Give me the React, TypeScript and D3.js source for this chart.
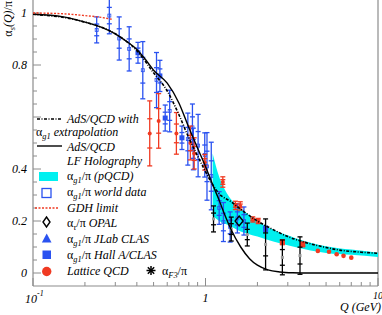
import React, { useEffect, useRef } from 'react';
import * as d3 from 'd3';

// [Q (GeV), alpha/pi, error]
const worldData: number[][] = [
  [0.234, 0.935, 0.05],
  [0.277, 0.99, 0.07],
  [0.316, 0.902, 0.083],
  [0.361, 0.862, 0.085],
  [0.433, 0.78, 0.11],
  [0.52, 0.742, 0.106],
  [0.62, 0.623, 0.08],
  [0.79, 0.515, 0.1],
  [0.84, 0.56, 0.09],
  [0.85, 0.477, 0.08],
  [0.906, 0.49, 0.12],
  [0.99, 0.454, 0.085],
  [1.02, 0.41, 0.13],
  [1.08, 0.373, 0.13],
  [1.2, 0.25, 0.063],
  [1.27, 0.196, 0.075],
  [1.39, 0.177, 0.058],
  [1.53, 0.21, 0.056],
  [1.67, 0.2, 0.054],
];

const hallAData: number[][] = [
  [0.406, 0.847, 0.04],
  [0.544, 0.758, 0.06],
  [0.584, 0.596, 0.05],
  [0.73, 0.52, 0.045],
  [2.23, 0.17, 0.01],
];

const latticeBars: number[][] = [
  [0.475, 0.537, 0.125],
  [0.535, 0.585, 0.105],
  [0.678, 0.537, 0.08],
  [0.817, 0.5, 0.065],
  [0.86, 0.46, 0.06],
  [0.99, 0.426, 0.03],
  [1.26, 0.35, 0.02],
  [1.49, 0.26, 0.016],
  [1.59, 0.258, 0.016],
  [1.88, 0.206, 0.01],
  [2.02, 0.2, 0.01],
];

const latticeSquares: number[][] = [
  [2.79, 0.118, 0.008],
  [3.66, 0.11, 0.008],
];

const latticeDots: number[][] = [
  [4.48, 0.085],
  [5.2, 0.082],
  [5.76, 0.072],
  [6.31, 0.066],
  [7.0, 0.059],
];

const f3Data: number[][] = [
  [1.113, 0.208, 0.05],
  [1.41, 0.169, 0.046],
  [1.747, 0.148, 0.044],
  [2.23, 0.11, 0.098],
  [2.79, 0.06, 0.067],
  [3.53, 0.067, 0.072],
];

const opalData: number[][] = [[1.566, 0.2]];

// AdS/QCD LF holography curve
const holoCurve: number[][] = [
  [0.1, 0.995], [0.15, 0.985], [0.2, 0.965], [0.25, 0.945], [0.3, 0.92],
  [0.35, 0.89], [0.4, 0.86], [0.45, 0.82], [0.5, 0.78], [0.6, 0.73],
  [0.7, 0.655], [0.8, 0.56], [0.9, 0.48], [1.0, 0.41], [1.1, 0.34],
  [1.2, 0.28], [1.3, 0.22], [1.4, 0.17], [1.6, 0.1], [1.8, 0.055],
  [2.0, 0.03], [2.3, 0.012], [2.7, 0.004], [3.2, 0.001], [4, 0], [10, 0],
];

// AdS/QCD with alpha_g1 extrapolation
const extrapCurve: number[][] = [
  [0.1, 0.995], [0.2, 0.965], [0.3, 0.92], [0.4, 0.855], [0.5, 0.77],
  [0.6, 0.7], [0.7, 0.61], [0.8, 0.52], [0.9, 0.45], [1.0, 0.39],
  [1.1, 0.34], [1.2, 0.305], [1.4, 0.275], [1.6, 0.245], [2.0, 0.2],
  [2.5, 0.165], [3.0, 0.14], [3.6, 0.122], [4.5, 0.105], [6, 0.088],
  [8, 0.08], [10, 0.076],
];

const gdhCurve: number[][] = [
  [0.1, 1.0], [0.15, 0.997], [0.2, 0.99], [0.25, 0.983], [0.29, 0.975],
];

// pQCD band: [Q, upper, lower]
const pqcdBand: number[][] = [
  [1.1, 0.46, 0.22], [1.2, 0.37, 0.2], [1.35, 0.3, 0.185], [1.6, 0.25, 0.16],
  [2.0, 0.2, 0.14], [2.5, 0.165, 0.12], [3.3, 0.135, 0.1], [5, 0.103, 0.077],
  [7, 0.09, 0.07], [10, 0.078, 0.062],
];

const yTickLabels: [number, string][] = [[0, '0'], [0.2, '0.2'], [0.4, '0.4'], [0.8, '0.8'], [1, '1']];

const BLUE = '#2a52f0';
const RED = '#f03a22';
const CYAN = '#00f0f0';
const AXIS = '#8c8c8c';
const FONT = '"Liberation Serif", "Times New Roman", serif';

type Part = [string, string];

function richText(g: any, x: number, y: number, parts: Part[], size = 12) {
  const t = g.append('text').attr('x', x).attr('y', y)
    .attr('font-family', FONT).attr('font-size', size).attr('fill', '#000');
  let shift = 0;
  parts.forEach(([s, kind]) => {
    const sp = t.append('tspan').text(s);
    if (kind === 'sub') {
      sp.attr('font-size', size * 0.7).attr('font-style', 'italic').attr('dy', 3 - shift);
      shift = 3;
    } else {
      sp.attr('dy', -shift);
      shift = 0;
      if (kind === 'i') sp.attr('font-style', 'italic');
    }
  });
  return t;
}

const App = () => {
  const ref = useRef<SVGSVGElement>(null);

  useEffect(() => {
    const svg = d3.select(ref.current);
    svg.selectAll('*').remove();

    const x = d3.scaleLog().domain([0.1, 10]).range([33, 378]);
    const y = d3.scaleLinear().domain([0, 1]).range([273, 13]);
    const yBottom = y(-0.05);

    // frame
    svg.append('line').attr('x1', 33).attr('x2', 33).attr('y1', 0).attr('y2', yBottom)
      .attr('stroke', AXIS).attr('stroke-width', 1.2);
    svg.append('line').attr('x1', 33).attr('x2', x(10)).attr('y1', yBottom).attr('y2', yBottom)
      .attr('stroke', AXIS).attr('stroke-width', 1.2);
    svg.append('line').attr('x1', x(10)).attr('x2', x(10)).attr('y1', 0).attr('y2', yBottom)
      .attr('stroke', AXIS).attr('stroke-width', 1.2);

    x.ticks().forEach((t) => {
      const major = Math.abs(Math.log10(t) - Math.round(Math.log10(t))) < 1e-6;
      svg.append('line').attr('x1', x(t)).attr('x2', x(t))
        .attr('y1', yBottom).attr('y2', yBottom - (major ? 8 : 4))
        .attr('stroke', AXIS).attr('stroke-width', 1);
    });
    y.ticks(20).forEach((t) => {
      const major = Math.abs(t * 5 - Math.round(t * 5)) < 1e-6;
      svg.append('line').attr('x1', 33).attr('x2', 33 + (major ? 8 : 4))
        .attr('y1', y(t)).attr('y2', y(t))
        .attr('stroke', AXIS).attr('stroke-width', 1);
    });

    yTickLabels.forEach(([v, s]) => {
      svg.append('text').attr('x', 27).attr('y', y(v) + 4).attr('text-anchor', 'end')
        .attr('font-family', FONT).attr('font-style', 'italic').attr('font-size', 12).text(s);
    });

    const xl = svg.append('text').attr('x', 25).attr('y', 303)
      .attr('font-family', FONT).attr('font-style', 'italic').attr('font-size', 12);
    xl.append('tspan').text('10');
    xl.append('tspan').text('-1').attr('font-size', 8).attr('dy', -7);
    svg.append('text').attr('x', x(1)).attr('y', 302).attr('text-anchor', 'middle')
      .attr('font-family', FONT).attr('font-style', 'italic').attr('font-size', 12).text('1');
    svg.append('text').attr('x', x(10)).attr('y', 299).attr('text-anchor', 'middle')
      .attr('font-family', FONT).attr('font-style', 'italic').attr('font-size', 10).text('10');
    svg.append('text').attr('x', 381).attr('y', 311).attr('text-anchor', 'end')
      .attr('font-family', FONT).attr('font-style', 'italic').attr('font-size', 12).text('Q (GeV)');

    const yt = richText(svg, 0, 0, [['α', 'g'], ['s', 'sub'], ['(Q)', 'i'], ['/π', 'g']], 12);
    yt.attr('x', null).attr('y', null).attr('text-anchor', 'end')
      .attr('transform', 'translate(12,1) rotate(-90)');

    // pQCD band
    const area = d3.area<number[]>()
      .x((d) => x(d[0])).y0((d) => y(d[2])).y1((d) => y(d[1]))
      .curve(d3.curveMonotoneX);
    svg.append('path').datum(pqcdBand).attr('d', area).attr('fill', CYAN);

    const line = d3.line<number[]>().x((d) => x(d[0])).y((d) => y(d[1])).curve(d3.curveMonotoneX);

    // error bars
    const bars = (data: number[][], color: string, w: number) => {
      const g = svg.append('g').attr('stroke', color).attr('stroke-width', 1.3);
      data.forEach(([q, v, e]) => {
        const cx = x(q);
        g.append('line').attr('x1', cx).attr('x2', cx).attr('y1', y(v + e)).attr('y2', y(v - e));
        [v + e, v - e, v + e * 0.45, v - e * 0.45].forEach((yy) => {
          g.append('line').attr('x1', cx - w).attr('x2', cx + w).attr('y1', y(yy)).attr('y2', y(yy));
        });
      });
    };

    bars(worldData, BLUE, 2.5);
    worldData.forEach(([q, v]) => {
      svg.append('rect').attr('x', x(q) - 1.5).attr('y', y(v) - 1.5).attr('width', 3).attr('height', 3)
        .attr('fill', 'none').attr('stroke', BLUE).attr('stroke-width', 0.8);
    });
    bars(hallAData, BLUE, 2.5);
    hallAData.forEach(([q, v]) => {
      svg.append('rect').attr('x', x(q) - 2.5).attr('y', y(v) - 2.5).attr('width', 5).attr('height', 5)
        .attr('fill', BLUE);
    });

    bars(latticeBars, RED, 2.5);
    latticeBars.forEach(([q, v]) => {
      svg.append('circle').attr('cx', x(q)).attr('cy', y(v)).attr('r', 2).attr('fill', RED);
    });
    bars(latticeSquares, RED, 2.5);
    latticeSquares.forEach(([q, v]) => {
      svg.append('rect').attr('x', x(q) - 2.5).attr('y', y(v) - 3).attr('width', 5).attr('height', 6)
        .attr('fill', RED);
    });
    latticeDots.forEach(([q, v]) => {
      svg.append('circle').attr('cx', x(q)).attr('cy', y(v)).attr('r', 2.3).attr('fill', RED);
    });

    // alpha_F3 points
    bars(f3Data, '#000', 2.5);
    f3Data.forEach(([q, v]) => {
      svg.append('rect').attr('x', x(q) - 1.5).attr('y', y(v) - 1.5).attr('width', 3).attr('height', 3)
        .attr('fill', '#999');
    });

    // curves
    svg.append('path').datum(holoCurve).attr('d', line)
      .attr('fill', 'none').attr('stroke', '#000').attr('stroke-width', 1.4);
    svg.append('path').datum(extrapCurve).attr('d', line)
      .attr('fill', 'none').attr('stroke', '#000').attr('stroke-width', 1.6)
      .attr('stroke-dasharray', '3,1.5,1,1.5');
    svg.append('path').datum(gdhCurve).attr('d', line)
      .attr('fill', 'none').attr('stroke', RED).attr('stroke-width', 1.4)
      .attr('stroke-dasharray', '2,1.5');

    // OPAL
    opalData.forEach(([q, v]) => {
      const cx = x(q), cy = y(v);
      svg.append('path').attr('d', `M${cx},${cy - 5}L${cx + 4},${cy}L${cx},${cy + 5}L${cx - 4},${cy}Z`)
        .attr('fill', 'none').attr('stroke', '#000').attr('stroke-width', 1.4);
    });

    // legend
    const lg = svg.append('g');
    lg.append('line').attr('x1', 37).attr('x2', 62).attr('y1', 119).attr('y2', 119)
      .attr('stroke', '#000').attr('stroke-width', 1.6).attr('stroke-dasharray', '3,1.5,1,1.5');
    richText(lg, 67, 123, [['AdS/QCD with', 'i']]);
    richText(lg, 36, 136, [['α', 'g'], ['g1', 'sub'], [' extrapolation', 'i']]);
    lg.append('line').attr('x1', 37).attr('x2', 62).attr('y1', 146).attr('y2', 146)
      .attr('stroke', '#000').attr('stroke-width', 1.4);
    richText(lg, 67, 151, [['AdS/QCD', 'i']]);
    richText(lg, 67, 165, [['LF Holography', 'i']]);
    lg.append('rect').attr('x', 39).attr('y', 172).attr('width', 19).attr('height', 9).attr('fill', CYAN);
    richText(lg, 67, 180, [['α', 'g'], ['g1', 'sub'], ['/π ', 'g'], ['(pQCD)', 'i']]);
    lg.append('rect').attr('x', 42).attr('y', 188.5).attr('width', 9).attr('height', 9)
      .attr('fill', 'none').attr('stroke', BLUE).attr('stroke-width', 1.3);
    richText(lg, 67, 196, [['α', 'g'], ['g1', 'sub'], ['/π ', 'g'], ['world data', 'i']]);
    lg.append('line').attr('x1', 35).attr('x2', 59).attr('y1', 208).attr('y2', 208)
      .attr('stroke', RED).attr('stroke-width', 1.4).attr('stroke-dasharray', '2,1.5');
    richText(lg, 67, 212, [['GDH limit', 'i']]);
    lg.append('path').attr('d', 'M46.5,217L50,222L46.5,227L43,222Z')
      .attr('fill', 'none').attr('stroke', '#000').attr('stroke-width', 1.4);
    richText(lg, 67, 227, [['α', 'g'], ['τ', 'sub'], ['/π ', 'g'], ['OPAL', 'i']]);
    lg.append('path').attr('d', 'M46.7,233.5L51.5,242.5L41.9,242.5Z').attr('fill', BLUE);
    richText(lg, 67, 243, [['α', 'g'], ['g1', 'sub'], ['/π ', 'g'], ['JLab CLAS', 'i']]);
    lg.append('rect').attr('x', 42.5).attr('y', 250.5).attr('width', 8.5).attr('height', 8.5).attr('fill', BLUE);
    richText(lg, 67, 259, [['α', 'g'], ['g1', 'sub'], ['/π ', 'g'], ['Hall A/CLAS', 'i']]);
    lg.append('circle').attr('cx', 46.7).attr('cy', 271.5).attr('r', 4.7).attr('fill', RED);
    richText(lg, 67, 275, [['Lattice QCD', 'i']]);
    const star = lg.append('g').attr('stroke', '#000').attr('stroke-width', 1.5)
      .attr('transform', 'translate(151,270.5)');
    [0, 45, 90, 135].forEach((a) => {
      star.append('line').attr('x1', -4.5).attr('x2', 4.5).attr('y1', 0).attr('y2', 0)
        .attr('transform', `rotate(${a})`);
    });
    richText(lg, 162, 275, [['α', 'g'], ['F3', 'sub'], ['/π', 'g']]);
  }, []);

  return (
    <svg ref={ref} width={382} height={315}
      style={{ position: 'absolute', left: 0, top: 0, background: '#fff' }} />
  );
};

export default App;
